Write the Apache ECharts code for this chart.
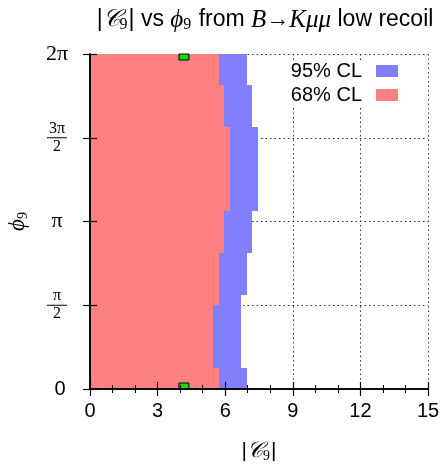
<!DOCTYPE html>
<html><head><meta charset="utf-8">
<script src="https://cdn.jsdelivr.net/npm/echarts@6/dist/echarts.min.js"></script>
<style>html,body{margin:0;padding:0;background:#fff}#c{width:443px;height:464px}</style>
</head><body><div id="c"></div>
<script>
// x axis: |C9|, y axis: phi9 in units of pi
const xMin = 0, xMax = 15, xStep = 3;
const yMin = 0, yMax = 2, yStep = 0.5;
const yTickLabels = {'0':'{s|0}', '0.5':'{fn|π}\n{bar| }\n{fd|2}', '1':'{p|π}', '1.5':'{fn|3π}\n{bar| }\n{fd|2}', '2':'{p|2π}'};

// 95% CL region (blue): strips in phi (units of pi) and |C9| edge
const bluePhiLo = [0, 0.125, 0.5625, 0.8125, 1.0625, 1.5625, 1.8125];
const bluePhiHi = [0.125, 0.5625, 0.8125, 1.0625, 1.5625, 1.8125, 2];
const blueC9    = [6.97, 6.70, 6.97, 7.19, 7.44, 7.19, 6.97];

// 68% CL region (red)
const redPhiLo = [0, 0.125, 0.5, 0.8125, 1.0625, 1.5625, 1.8125];
const redPhiHi = [0.125, 0.5, 0.8125, 1.0625, 1.5625, 1.8125, 2];
const redC9    = [5.74, 5.47, 5.74, 5.93, 6.21, 5.93, 5.74];

// best fit points
const bestC9  = [4.17, 4.17];
const bestPhi = [0, 2];

const seriesNames = ['95% CL', '68% CL'];
const blueColor = '#8080ff', redColor = '#ff8080', greenColor = '#00dd00';

const chart = echarts.init(document.getElementById('c'), null, {renderer: 'canvas'});

function band(name, color, lo, hi, c9) {
  return {
    type: 'custom', name: name, xAxisIndex: 0, yAxisIndex: 0, z: 2,
    itemStyle: {color: color},
    data: c9.map((v, i) => [v, lo[i], hi[i]]),
    encode: {x: 0, y: [1, 2]},
    renderItem: function (params, api) {
      const a = api.coord([0, api.value(2)]);
      const b = api.coord([api.value(0), api.value(1)]);
      const x0 = Math.round(a[0]), y0 = Math.round(a[1]);
      const x1 = Math.round(b[0]), y1 = Math.round(b[1]);
      return {type: 'rect', shape: {x: x0, y: y0, width: x1 - x0, height: y1 - y0},
              style: {fill: color}};
    }
  };
}

const sansFont = 'Liberation Sans';
const serifFont = 'Liberation Serif';

const baseAxisLine = {show: true, lineStyle: {color: '#000', width: 1.5}};

chart.setOption({
  animation: false,
  backgroundColor: '#fff',
  title: {
    text: '{t||}{c|𝒞}{sub|9}{t|| vs }{m|ϕ}{sub|9}{t| from }{m|B}{t|→}{m|Kμμ}{t| low recoil}',
    left: 260, top: 2, textAlign: 'center',
    textStyle: {
      fontWeight: 'normal',
      rich: {
        t: {fontFamily: sansFont, fontSize: 23, fontWeight: 'normal', color: '#000'},
        c: {fontFamily: serifFont, fontStyle: 'italic', fontWeight: 'normal', fontSize: 24, color: '#000'},
        m: {fontFamily: serifFont, fontStyle: 'italic', fontWeight: 'normal', fontSize: 25, color: '#000'},
        sub: {fontFamily: serifFont, fontWeight: 'normal', fontSize: 16, color: '#000', padding: [10, 1, 0, 0]}
      }
    }
  },
  legend: {
    data: seriesNames.map(n => ({name: n, icon: 'rect'})),
    orient: 'vertical', align: 'right', right: 45, top: 61,
    itemWidth: 22, itemHeight: 12, itemGap: 4, padding: 0,
    backgroundColor: '#fff',
    textStyle: {fontFamily: sansFont, fontSize: 20, color: '#000', lineHeight: 20, padding: [0, 9, 0, 0]}
  },
  grid: {left: 90, right: 15, top: 54, bottom: 75, outerBoundsMode: 'none', containLabel: false},
  xAxis: [
    {type: 'value', min: xMin, max: xMax, interval: xStep, position: 'bottom', z: 10,
     axisLine: baseAxisLine,
     axisTick: {show: true, inside: false, length: 7, lineStyle: {color: '#000', width: 1.2}},
     minorTick: {show: true, splitNumber: 3, length: 4, lineStyle: {color: '#000', width: 1}},
     axisLabel: {fontFamily: sansFont, fontSize: 20, color: '#000', margin: 12},
     splitLine: {show: false},
     name: '{b||}{c|𝒞}{sub|9}{b||}', nameLocation: 'middle', nameGap: 50,
     nameTextStyle: {rich: {
       b: {fontFamily: sansFont, fontSize: 21, color: '#000'},
       c: {fontFamily: serifFont, fontStyle: 'italic', fontSize: 22, color: '#000'},
       sub: {fontFamily: serifFont, fontSize: 14, color: '#000', padding: [10, 1, 0, 0]}
     }}},
    {type: 'value', min: xMin, max: xMax, interval: xStep, position: 'top', z: 10,
     axisLine: baseAxisLine,
     axisTick: {show: true, inside: false, length: 7, lineStyle: {color: '#000', width: 1.2}},
     minorTick: {show: true, splitNumber: 3, length: 4, lineStyle: {color: '#000', width: 1}},
     axisLabel: {show: false}, splitLine: {show: false}},
    {type: 'value', min: xMin, max: xMax, interval: xStep, position: 'bottom', z: 0,
     axisLine: {show: false}, axisTick: {show: false}, axisLabel: {show: false},
     splitLine: {show: true, lineStyle: {color: '#333', width: 1, type: [1.5, 3]}}}
  ],
  yAxis: [
    {type: 'value', min: yMin, max: yMax, interval: yStep, position: 'left', z: 10,
     axisLine: baseAxisLine,
     axisTick: {show: true, inside: false, length: 7, lineStyle: {color: '#000', width: 1.2}},
     axisLabel: {
       margin: 33, align: 'center',
       formatter: v => yTickLabels[String(v)] || '',
       rich: {
         s: {fontFamily: sansFont, fontSize: 20, color: '#000', padding: [0, 0, 0, 6]},
         p: {fontFamily: serifFont, fontSize: 22, color: '#000'},
         fn: {fontFamily: serifFont, fontSize: 16, color: '#000', lineHeight: 15},
         fd: {fontFamily: serifFont, fontSize: 16, color: '#000', lineHeight: 15},
         bar: {width: 20, height: 1, lineHeight: 3, fontSize: 1, backgroundColor: '#000'}
       }
     },
     splitLine: {show: false},
     name: '{m|ϕ}{sub|9}', nameLocation: 'middle', nameGap: 60, nameRotate: 90,
     nameTextStyle: {rich: {
       m: {fontFamily: serifFont, fontStyle: 'italic', fontSize: 23, color: '#000'},
       sub: {fontFamily: serifFont, fontSize: 14, color: '#000', padding: [10, 0, 0, 0]}
     }}},
    {type: 'value', min: yMin, max: yMax, interval: yStep, position: 'right', z: 10,
     axisLine: baseAxisLine,
     axisTick: {show: true, inside: false, length: 7, lineStyle: {color: '#000', width: 1.2}},
     axisLabel: {show: false}, splitLine: {show: false}},
    {type: 'value', min: yMin, max: yMax, interval: yStep, position: 'left', z: 0,
     axisLine: {show: false}, axisTick: {show: false}, axisLabel: {show: false},
     splitLine: {show: true, lineStyle: {color: '#333', width: 1, type: [1.5, 3]}}}
  ],
  series: [
    band(seriesNames[0], blueColor, bluePhiLo, bluePhiHi, blueC9),
    band(seriesNames[1], redColor, redPhiLo, redPhiHi, redC9),
    {
      type: 'custom', name: 'best fit', xAxisIndex: 0, yAxisIndex: 0, z: 5,
      data: bestC9.map((v, i) => [v, bestPhi[i]]),
      encode: {x: 0, y: 1},
      renderItem: function (params, api) {
        const p = api.coord([api.value(0), api.value(1)]);
        const w = 10, h = 12;
        const cs = params.coordSys;
        const r = echarts.graphic.clipRectByRect(
          {x: p[0] - w / 2, y: p[1] - h / 2, width: w, height: h},
          {x: cs.x, y: cs.y, width: cs.width, height: cs.height});
        if (!r) return null;
        return {type: 'rect', shape: r, style: {fill: greenColor, stroke: '#000', lineWidth: 1}};
      }
    }
  ]
});
</script>
</body></html>
